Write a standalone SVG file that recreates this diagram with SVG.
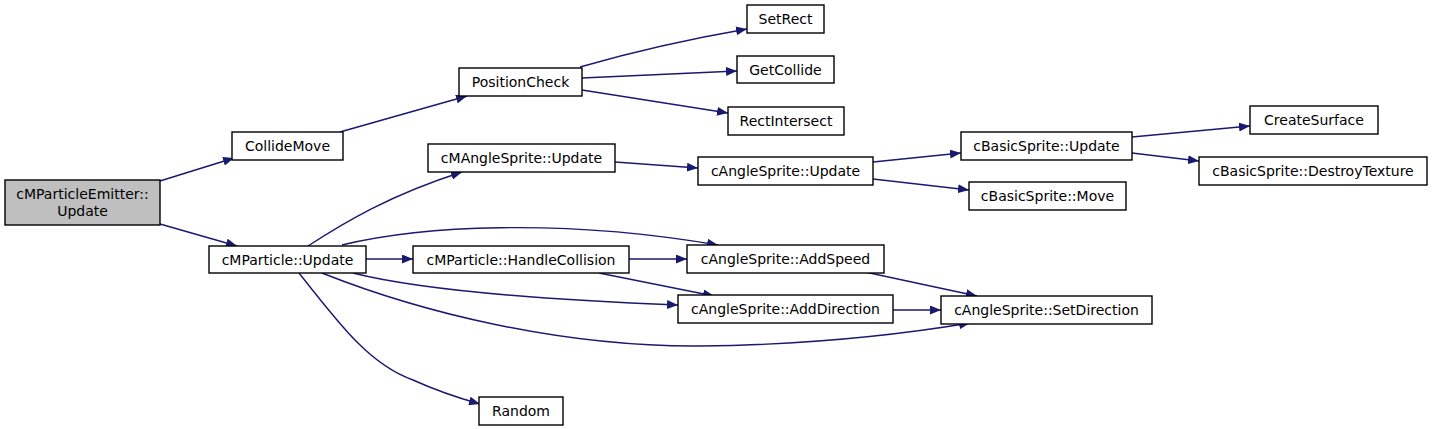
<svg xmlns="http://www.w3.org/2000/svg" width="1432" height="429" viewBox="0 0 1432 429">
<style>
.n rect{fill:#fff;stroke:#000;stroke-width:1.4}
.n text{font-family:"DejaVu Sans",sans-serif;font-size:14px;fill:#000;text-anchor:middle}
#emitter rect{fill:#bfbfbf}
#edges path{fill:none;stroke:#191970;stroke-width:1.4;marker-end:url(#a)}
</style>
<defs>
<marker id="a" markerWidth="12" markerHeight="9" refX="11" refY="4.5" orient="auto" markerUnits="userSpaceOnUse">
<path d="M0,0 L11,4.5 L0,9 z" fill="#191970"/>
</marker>
</defs>
<rect width="1432" height="429" fill="#fff"/>
<g id="edges">
<path d="M160,181 L234,158"/>
<path d="M160,224 L237,246"/>
<path d="M340,132 L467,96"/>
<path d="M580,67 Q660,44 747,29"/>
<path d="M582,78 L737,71"/>
<path d="M582,90 L728,113"/>
<path d="M308,246 C345,222 390,195 462,172"/>
<path d="M615,162 L698,168"/>
<path d="M873,162 L961,153"/>
<path d="M873,179 L969,190"/>
<path d="M1132,137 L1250,126"/>
<path d="M1132,153 L1199,161"/>
<path d="M342,245 C420,226 560,218 718,245"/>
<path d="M366,259 L413,259"/>
<path d="M629,259 L687,259"/>
<path d="M599,273 L714,296"/>
<path d="M353,273 C420,290 550,300 678,305"/>
<path d="M865,272 L977,296"/>
<path d="M893,310 L941,310"/>
<path d="M322,273 C420,312 560,347 700,346 C790,345 880,338 970,323"/>
<path d="M299,273 C340,325 370,365 413,380 C435,390 455,397 480,404"/>
</g>
<g id="emitter" class="n"><rect x="5" y="180" width="155" height="45"/><text x="82.5" y="199">cMParticleEmitter::</text><text x="82.5" y="216">Update</text></g>
<g id="collidemove" class="n"><rect x="232" y="132" width="111" height="28"/><text x="287.5" y="151">CollideMove</text></g>
<g id="mparticleupdate" class="n"><rect x="209" y="246" width="157" height="27"/><text x="287.5" y="264.5">cMParticle::Update</text></g>
<g id="positioncheck" class="n"><rect x="459" y="68" width="123" height="28"/><text x="520.5" y="87">PositionCheck</text></g>
<g id="setrect" class="n"><rect x="747" y="5" width="77" height="28"/><text x="785.5" y="24">SetRect</text></g>
<g id="getcollide" class="n"><rect x="737" y="56" width="97" height="27"/><text x="785.5" y="74.5">GetCollide</text></g>
<g id="rectintersect" class="n"><rect x="728" y="107" width="116" height="28"/><text x="786" y="126">RectIntersect</text></g>
<g id="mangleupdate" class="n"><rect x="428" y="144" width="187" height="28"/><text x="521.5" y="163">cMAngleSprite::Update</text></g>
<g id="angleupdate" class="n"><rect x="698" y="157" width="175" height="28"/><text x="785.5" y="176">cAngleSprite::Update</text></g>
<g id="handlecollision" class="n"><rect x="413" y="246" width="216" height="27"/><text x="521" y="264.5">cMParticle::HandleCollision</text></g>
<g id="addspeed" class="n"><rect x="687" y="245" width="197" height="28"/><text x="785.5" y="264">cAngleSprite::AddSpeed</text></g>
<g id="adddirection" class="n"><rect x="678" y="295" width="215" height="28"/><text x="785.5" y="314">cAngleSprite::AddDirection</text></g>
<g id="random" class="n"><rect x="479" y="397" width="84" height="28"/><text x="521" y="416">Random</text></g>
<g id="basicupdate" class="n"><rect x="961" y="132" width="171" height="28"/><text x="1046.5" y="151">cBasicSprite::Update</text></g>
<g id="basicmove" class="n"><rect x="969" y="182" width="157" height="28"/><text x="1047.5" y="201">cBasicSprite::Move</text></g>
<g id="setdirection" class="n"><rect x="941" y="296" width="211" height="28"/><text x="1046.5" y="315">cAngleSprite::SetDirection</text></g>
<g id="createsurface" class="n"><rect x="1250" y="106" width="128" height="28"/><text x="1314" y="125">CreateSurface</text></g>
<g id="destroytexture" class="n"><rect x="1199" y="157" width="228" height="28"/><text x="1313" y="176">cBasicSprite::DestroyTexture</text></g>
</svg>
